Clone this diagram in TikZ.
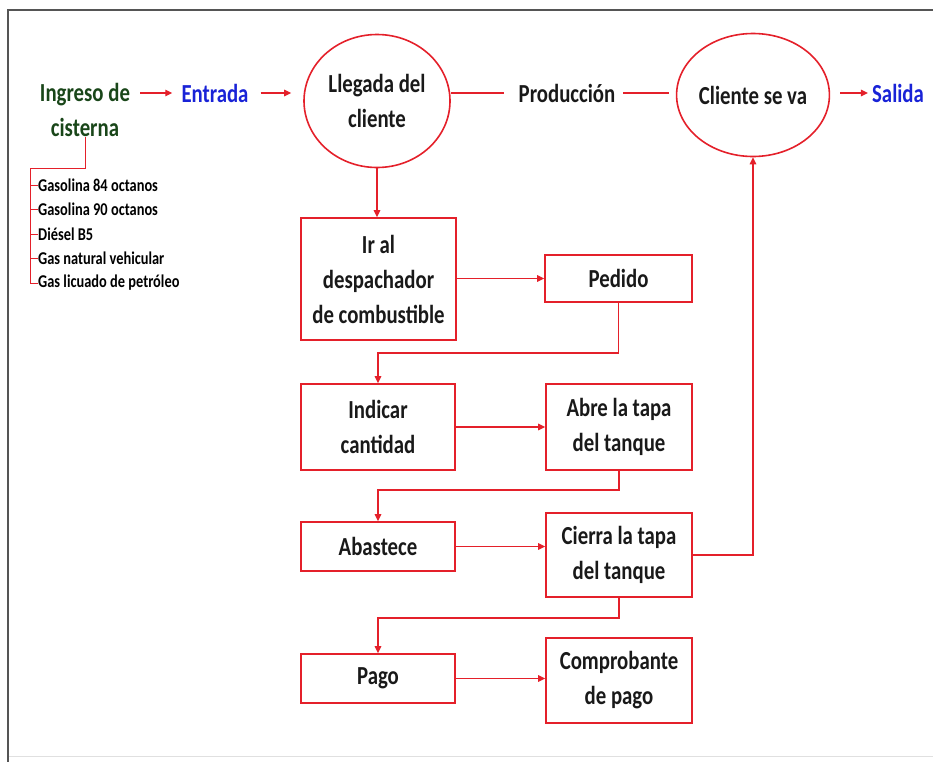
\documentclass[tikz,border=0pt]{standalone}
\usepackage{fontspec}
\setmainfont{Carlito}[FakeStretch=0.8]
\usetikzlibrary{shapes.geometric,arrows.meta,calc}
\definecolor{lred}{RGB}{228,32,42}
\definecolor{lblue}{RGB}{25,35,215}
\definecolor{lgreen}{RGB}{25,70,25}
\definecolor{frame}{RGB}{85,85,85}
\begin{document}
\begin{tikzpicture}[x=1pt,y=-1pt,
  txt/.style={inner sep=0pt,align=center,font=\fontsize{26}{35}\selectfont\bfseries,text=black!90},
  item/.style={inner sep=0pt,anchor=west,font=\fontsize{18}{18}\selectfont\bfseries,text=black},
  bx/.style={draw=lred,line width=1.6pt,fill=white,align=center,inner sep=2pt,
     font=\fontsize{26}{35}\selectfont\bfseries,text=black!90},
  elli/.style={draw=lred,line width=1.6pt,ellipse,inner sep=0pt,align=center,
     font=\fontsize{26}{35}\selectfont\bfseries,text=black!90},
  ln/.style={draw=lred,line width=1.3pt},
  arr/.style={ln,-{Triangle[length=7pt,width=6.5pt]}}]
\useasboundingbox (0,0) rectangle (933,764);
% frame
\draw[frame,line width=2pt] (933,10) -- (8,10) -- (8,762);
\draw[black!12,line width=1pt] (9,756) -- (933,756);
% top row
\node[txt,text=lgreen] (ing) at (85,110) {Ingreso de\\cisterna};
\node[txt,text=lblue] (ent) at (215,93) {Entrada};
\node[elli,minimum width=146pt,minimum height=133pt] (lleg) at (377,101) {Llegada del\\cliente};
\node[txt] (prod) at (567,93) {Producción};
\node[elli,minimum width=147pt,minimum height=123pt] (cli) at (753,95) {Cliente se va};
\node[txt,text=lblue] (sal) at (898,93) {Salida};
\draw[arr] ([xshift=10pt]ing.east |- ent.west) -- ([xshift=-9pt]ent.west);
\draw[arr] ([xshift=12pt]ent.east) -- ([xshift=-12pt]ent.east -| lleg.west);
\draw[ln] (lleg.east |- prod.west) -- ([xshift=-15pt]prod.west);
\draw[ln] ([xshift=8pt]prod.east) -- ([xshift=-7pt]prod.east -| cli.west);
\draw[arr] ([xshift=10pt]cli.east |- sal.west) -- ([xshift=-4pt]sal.west);
% fuel list
\node[item] (i1) at (38,185) {Gasolina 84 octanos};
\node[item] (i2) at (38,209.5) {Gasolina 90 octanos};
\node[item] (i3) at (38,234) {Diésel B5};
\node[item] (i4) at (38,258.5) {Gas natural vehicular};
\node[item] (i5) at (38,283) {Gas licuado de petróleo};
\coordinate (tr) at (30,168);
\draw[ln,line width=1pt] (ing.south) -- (ing.south |- tr) -- (tr) |- (i5.west);
\foreach \i in {1,2,3,4}{\draw[ln,line width=1pt] (tr |- i\i.west) -- (i\i.west);}
% boxes
\node[bx,minimum width=155pt,minimum height=122pt] (b1) at (378.5,279) {Ir al\\despachador\\de combustible};
\node[bx,minimum width=147pt,minimum height=47pt] (ped) at (618.5,278.5) {Pedido};
\node[bx,minimum width=154pt,minimum height=86pt] (ind) at (378,427) {Indicar\\cantidad};
\node[bx,minimum width=146pt,minimum height=86pt] (abre) at (619,427) {Abre la tapa\\del tanque};
\node[bx,minimum width=154pt,minimum height=49pt] (abas) at (378,546.5) {Abastece};
\node[bx,minimum width=146pt,minimum height=84pt] (cie) at (619,555) {Cierra la tapa\\del tanque};
\node[bx,minimum width=154pt,minimum height=49pt] (pago) at (378,678.5) {Pago};
\node[bx,minimum width=146pt,minimum height=85pt] (comp) at (619,680.5) {Comprobante\\de pago};
\coordinate (j1) at (0,353);
\coordinate (j2) at (0,490);
\coordinate (j3) at (0,618);
% connectors
\draw[arr] (lleg.south) -- (lleg.south |- b1.north);
\draw[arr] (b1.east |- ped.west) -- (ped.west);
\draw[arr] (ped.south) |- (ind.north |- j1) -- (ind.north);
\draw[arr] (ind.east) -- (abre.west);
\draw[arr] (abre.south) |- (abas.north |- j2) -- (abas.north);
\draw[arr] (abas.east) -- (abas.east -| cie.west);
\draw[arr] (cie.east) -| (cli.south);
\draw[arr] (cie.south) |- (pago.north |- j3) -- (pago.north);
\draw[arr] (pago.east) -- (pago.east -| comp.west);
\end{tikzpicture}
\end{document}
